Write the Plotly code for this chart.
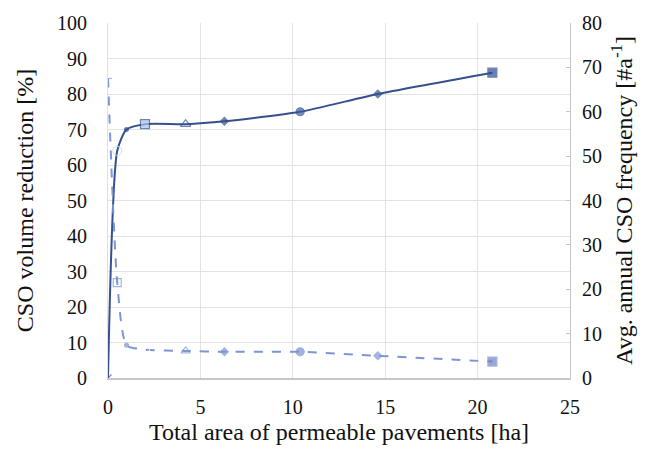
import plotly.graph_objects as go

# Total area of permeable pavements [ha]
area_ha = [0.0, 0.5, 1.0, 2.0, 4.2, 6.3, 10.4, 14.6, 20.8]
# CSO volume reduction [%]
volume_reduction = [0.0, 64.0, 70.0, 71.5, 71.5, 72.3, 75.0, 80.0, 86.0]
# Average annual CSO frequency [#/a]
cso_frequency = [67.5, 21.5, 7.4, 6.4, 6.1, 5.9, 5.9, 5.0, 3.7]

x_ticks = [0, 5, 10, 15, 20, 25]

dark_blue = "#34508F"
light_blue = "#7D95D3"

font_family = "'Liberation Serif', 'Times New Roman', serif"
text_color = "#111111"

fig = go.Figure()

# Volume reduction, solid line on the left axis
fig.add_trace(go.Scatter(
    x=area_ha, y=volume_reduction, mode="lines+markers",
    line=dict(color=dark_blue, width=2, shape="spline", smoothing=0.6),
    marker=dict(symbol=["x-thin-open", "circle-open", "circle", "square", "triangle-up-open",
                        "diamond", "circle", "diamond", "square"],
                size=[7, 9, 4, 9, 9, 6, 8, 6, 9],
                color=[dark_blue, "#C9D8F0", dark_blue, "#A9C4EA", dark_blue,
                       dark_blue, "#3C5CA8", dark_blue, "#2B4C9A"],
                line=dict(color=dark_blue, width=1.2)),
    showlegend=False,
))

# CSO frequency, dashed line on the right axis
fig.add_trace(go.Scatter(
    x=area_ha, y=cso_frequency, mode="lines+markers", yaxis="y2",
    line=dict(color=light_blue, width=2, dash="dash", shape="spline", smoothing=0.6),
    marker=dict(symbol=["line-ew-open", "square-open", "circle", "square-open", "triangle-up-open",
                        "diamond", "circle", "diamond", "square"],
                size=[6, 8, 4, 9, 8, 6, 8, 6, 9],
                color=[light_blue, light_blue, light_blue, "#FFFFFF", light_blue,
                       light_blue, "#7C8FCB", light_blue, "#6F80C2"],
                line=dict(color=light_blue, width=1.2)),
    showlegend=False,
))

fig.update_layout(
    width=651, height=453,
    margin=dict(l=108, r=81, t=21, b=73),
    paper_bgcolor="white", plot_bgcolor="white",
    font=dict(family=font_family, size=20, color=text_color),
    xaxis=dict(
        range=[0, 25], tickvals=x_ticks, ticktext=[str(v) for v in x_ticks],
        showgrid=True, gridcolor="#E3E3E3", gridwidth=1,
        zeroline=False, showline=True, linecolor="#C8C8C8", linewidth=1.5,
        ticks="", ticklabelstandoff=10,
        title=dict(text="Total area of permeable pavements [ha]", standoff=6),
    ),
    yaxis=dict(
        range=[0, 100], dtick=10,
        showgrid=True, gridcolor="#E3E3E3", gridwidth=1,
        zeroline=False, showline=True, linecolor="#E0E0E0", linewidth=1,
        ticks="", ticklabelstandoff=16,
        title=dict(text="CSO volume reduction [%]", standoff=16),
    ),
    yaxis2=dict(
        range=[0, 80], dtick=10, overlaying="y", side="right",
        showgrid=False, zeroline=False, showline=True, linecolor="#C8C8C8", linewidth=1.2,
        ticks="inside", ticklen=4, tickcolor="#C8C8C8", ticklabelstandoff=7,
        title=dict(text="Avg. annual CSO frequency [#a<sup>-1</sup>]", standoff=14),
    ),
)

fig.write_html("out.html")
